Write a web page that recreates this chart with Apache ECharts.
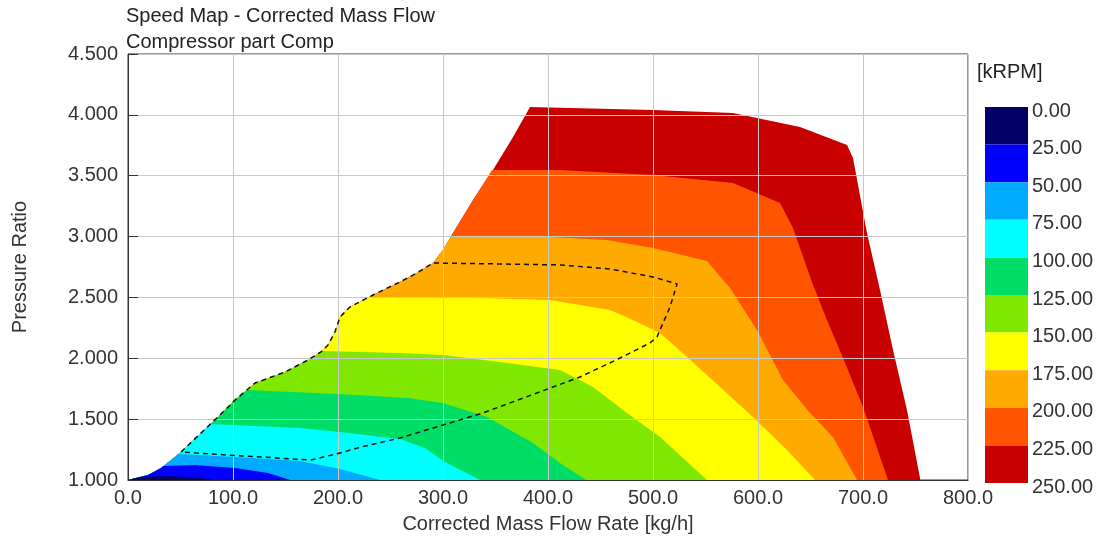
<!DOCTYPE html>
<html>
<head>
<meta charset="utf-8">
<script src="https://cdn.jsdelivr.net/npm/echarts@6/dist/echarts.min.js"></script>
<style>
html,body{margin:0;padding:0;background:#fff;}
#chart{width:1099px;height:540px;}
</style>
</head>
<body>
<div id="chart"></div>
<script>
// Speed levels [kRPM] and band colours (0-25, 25-50, ... 225-250)
const levels = [0, 25, 50, 75, 100, 125, 150, 175, 200, 225, 250];
const bandColors = ['#000066', '#0000ff', '#00aaff', '#00ffff', '#00dd66',
                    '#80e800', '#ffff00', '#ffaa00', '#ff5500', '#c80000'];

// Map envelope: surge (left) edge, then top / choke (right) edge  [mass flow, PR]
const surgeLine = [[0,1.000],[19.0,1.041],[31.4,1.099],[41.0,1.164],[50.5,1.230],[69.5,1.386],
  [85.7,1.518],[101.9,1.657],[121.0,1.797],[149.5,1.887],[171.4,1.986],[183.8,2.052],
  [190.5,2.109],[197.1,2.216],[201.9,2.339],[211.4,2.422],[233.3,2.520],[259.0,2.627],
  [275.2,2.701],[290.5,2.783],[300.0,2.890],[309.5,3.030],[328.6,3.301],[347.6,3.547],
  [366.7,3.818],[382.9,4.065]];
const chokeEdge = [[500,4.040],[576.2,4.016],[599.0,3.975],[640,3.901],[684.8,3.753],
  [690.5,3.646],[703.8,3.030],[716.2,2.561],[728.6,2.068],[741.9,1.575],[754.3,1.016],[754.3,1.0]];

// Iso-speed contour lines (from surge edge down to PR = 1)
const contour225 = [[346.7,3.547],[411.4,3.547],[500.0,3.506],[576.2,3.440],[621.0,3.276],
  [633.3,3.071],[652.4,2.602],[665.7,2.315],[681.0,2.002],[700.0,1.600],[723.8,1.000]];
const contour200 = [[307.8,3.005],[401.9,2.997],[456.2,2.972],[500.0,2.906],[551.4,2.800],
  [573.3,2.578],[599.0,2.233],[623.8,1.822],[649.5,1.551],[671.4,1.353],[694.3,1.000]];
const contour175 = [[230.0,2.504],[300.0,2.504],[401.9,2.479],[459.0,2.397],[481.0,2.315],
  [506.7,2.208],[532.4,2.011],[563.8,1.764],[595.2,1.518],[627.6,1.247],[654.3,1.000]];
const contour150 = [[184.7,2.060],[259.0,2.044],[300.0,2.027],[354.3,1.970],[411.4,1.904],
  [442.9,1.764],[475.2,1.551],[506.7,1.353],[551.4,1.000]];
const contour125 = [[113.5,1.740],[200.0,1.707],[266.7,1.674],[300.0,1.633],[341.9,1.518],
  [385.7,1.304],[411.4,1.140],[436.2,1.000]];
const contour100 = [[78.6,1.460],[163.8,1.427],[201.9,1.394],[259.0,1.337],[282.9,1.263],
  [301.9,1.148],[335.2,1.000]];
const contour75 = [[48.2,1.214],[101.9,1.189],[163.8,1.156],[201.9,1.090],[240.0,1.000]];
const contour50 = [[33.8,1.115],[63.8,1.123],[101.9,1.099],[133.3,1.058],[154.3,1.000]];
const contour25 = [[11.6,1.025],[40.0,1.033],[68.6,1.016],[82.9,1.000]];

// Dashed operating region outline
const dashedLoop = [[50.5,1.230],[69.5,1.386],[85.7,1.518],[101.9,1.657],[121.0,1.797],
  [149.5,1.887],[171.4,1.986],[183.8,2.052],[190.5,2.109],[197.1,2.216],[201.9,2.339],
  [211.4,2.422],[233.3,2.520],[259.0,2.627],[275.2,2.701],[290.5,2.783],[354.3,2.775],
  [411.4,2.767],[459.0,2.734],[500.0,2.668],[522.9,2.611],[516.2,2.422],[503.8,2.175],
  [497.1,2.126],[468.6,2.002],[430.5,1.846],[404.8,1.764],[338.1,1.551],[300.0,1.452],
  [259.0,1.345],[221.9,1.271],[201.9,1.222],[174.3,1.164],[95.2,1.205],[50.5,1.230]];

// Build layered regions (painter's order: outermost first)
function regionBelow(contour) {
  const start = contour[0];
  const pts = surgeLine.filter(p => p[1] < start[1] - 1e-6);
  return pts.concat(contour);
}
const contours = [contour225, contour200, contour175, contour150, contour125,
                  contour100, contour75, contour50, contour25];
const regions = [{pts: surgeLine.concat(chokeEdge), color: bandColors[9]}];
contours.forEach((c, i) => regions.push({pts: regionBelow(c), color: bandColors[8 - i]}));

const font = 'Liberation Sans, Arial, sans-serif';
const txt = '#333';

const chart = echarts.init(document.getElementById('chart'), null, {renderer: 'canvas'});
const bandSeries = bandColors.map((c, i) => ({
  type: 'bar', xAxisIndex: 1, yAxisIndex: 1, stack: 'cb',
  data: [levels[i + 1] - levels[i]], barWidth: '100%', silent: true,
  itemStyle: {color: c}
}));

chart.setOption({
  animation: false,
  textStyle: {fontFamily: font},
  title: [
    {text: 'Speed Map - Corrected Mass Flow', left: 126, top: 6, padding: 0,
     textStyle: {fontSize: 20, fontWeight: 'normal', color: '#222', fontFamily: font}},
    {text: 'Compressor part Comp', left: 126, top: 32, padding: 0,
     textStyle: {fontSize: 20, fontWeight: 'normal', color: '#222', fontFamily: font}},
    {text: '[kRPM]', left: 977, top: 62, padding: 0,
     textStyle: {fontSize: 20, fontWeight: 'normal', color: '#222', fontFamily: font}}
  ],
  grid: [
    {left: 128, right: 131, top: 54, bottom: 60, show: true, borderColor: '#333', borderWidth: 1},
    {left: 985, width: 43, top: 107, height: 376},
    {left: 985, width: 43, top: 111, height: 376}
  ],
  xAxis: [
    {type: 'value', min: 0, max: 800, interval: 100, z: 5,
     name: 'Corrected Mass Flow Rate [kg/h]', nameLocation: 'middle', nameGap: 34,
     nameTextStyle: {fontSize: 20, color: txt, fontFamily: font},
     axisLine: {lineStyle: {color: '#333'}}, axisTick: {show: false},
     axisLabel: {fontSize: 20, color: txt, margin: 8, fontFamily: font,
                 formatter: v => v.toFixed(1)},
     splitLine: {lineStyle: {color: '#c8c8c8'}}},
    {type: 'category', gridIndex: 1, data: ['k'], show: false},
    {type: 'category', gridIndex: 2, data: ['k'], show: false}
  ],
  yAxis: [
    {type: 'value', min: 1, max: 4.5, interval: 0.5, z: 5,
     name: 'Pressure Ratio', nameLocation: 'middle', nameGap: 98,
     nameTextStyle: {fontSize: 20, color: txt, fontFamily: font},
     axisLine: {show: true, lineStyle: {color: '#333'}},
     axisTick: {show: true, inside: true, length: 10, lineStyle: {color: '#333'}},
     axisLabel: {fontSize: 20, color: txt, margin: 10, fontFamily: font,
                 formatter: v => v.toFixed(3)},
     splitLine: {lineStyle: {color: '#c8c8c8'}}},
    {type: 'value', gridIndex: 1, min: 0, max: 250, interval: 25, inverse: true, show: false},
    {type: 'value', gridIndex: 2, min: 0, max: 250, interval: 25, inverse: true, position: 'right',
     axisLine: {show: false}, axisTick: {show: false}, splitLine: {show: false},
     axisLabel: {fontSize: 20, color: txt, margin: 4, fontFamily: font,
                 formatter: v => v.toFixed(2)}}
  ],
  series: [
    {type: 'custom', xAxisIndex: 0, yAxisIndex: 0, clip: true, silent: true, z: 2,
     data: regions.map(r => r.pts[0]),
     renderItem: (params, api) => {
       const r = regions[params.dataIndex];
       return {type: 'polygon', shape: {points: r.pts.map(p => api.coord(p))},
               style: {fill: r.color, stroke: null}};
     }},
    {type: 'line', xAxisIndex: 0, yAxisIndex: 0, data: dashedLoop, symbol: 'none', z: 8,
     silent: true, lineStyle: {color: '#111', width: 1.5, type: [5, 4]}}
  ].concat(bandSeries)
});
</script>
</body>
</html>
